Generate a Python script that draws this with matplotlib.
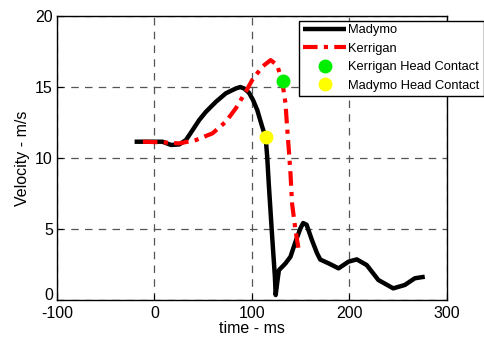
import matplotlib
matplotlib.use('Agg')
import matplotlib.pyplot as plt
import matplotlib.transforms as mtransforms

# Madymo head velocity (time in ms, velocity in m/s)
madymo_t = [-20.4, 8.2, 17.0, 25.5, 32.3, 39.1, 45.9, 52.8, 63.0, 73.2, 83.4,
            88.0, 92.0, 96.9, 101.0, 105.4, 110.5, 114.0, 115.6, 117.3, 120.7,
            123.5, 124.3, 125.8, 127.6, 134.4, 139.5, 144.6, 149.7, 152.5,
            156.0, 161.6, 166.7, 170.0, 178.6, 188.8, 199.0, 207.5, 217.7,
            229.6, 244.9, 256.8, 267.0, 277.2]
madymo_v = [11.15, 11.15, 10.92, 10.96, 11.27, 11.97, 12.68, 13.26, 13.96,
            14.56, 14.9, 15.0, 14.9, 14.6, 14.1, 13.38, 12.2, 11.46, 10.1,
            8.1, 4.46, 1.64, 0.35, 1.18, 2.1, 2.58, 3.05, 4.1, 5.05, 5.42,
            5.3, 4.2, 3.3, 2.85, 2.58, 2.23, 2.7, 2.86, 2.46, 1.41, 0.82,
            1.06, 1.53, 1.64]

# Kerrigan head velocity
kerrigan_t = [-11.9, 10.0, 25.5, 42.6, 59.5, 73.2, 83.4, 93.6, 100.3, 110.5,
              119.1, 125.8, 131.0, 134.4, 136.0, 137.8, 139.5, 141.1, 144.6,
              148.0]
kerrigan_v = [11.15, 11.1, 11.03, 11.27, 11.74, 12.56, 13.5, 14.67, 15.5,
              16.43, 16.9, 16.55, 15.4, 13.85, 12.2, 10.56, 8.9, 6.8, 4.93,
              3.5]

# head contact points
kerrigan_contact = (131.5, 15.45)
madymo_contact = (114.0, 11.5)

plt.rcParams['font.family'] = ['Liberation Sans', 'DejaVu Sans']
plt.rcParams['axes.unicode_minus'] = False

fig = plt.figure(figsize=(4.85, 3.42), dpi=100)
ax = fig.add_axes([0.1175, 0.1228, 0.8041, 0.8302])

ax.plot(madymo_t, madymo_v, color='black', lw=3.2, label='Madymo',
        solid_joinstyle='round', solid_capstyle='butt')
ax.plot(kerrigan_t, kerrigan_v, color='red', lw=3.0, ls=(0, (3.5, 1.5, 1, 1.5)),
        label='Kerrigan', dash_joinstyle='round')
ax.plot(*kerrigan_contact, 'o', color='#00ee00', ms=9, mec='#00ee00',
        ls='none', label='Kerrigan Head Contact')
ax.plot(*madymo_contact, 'o', color='yellow', ms=9, mec='yellow',
        ls='none', label='Madymo Head Contact')

ax.set_xlim(-100, 300)
ax.set_ylim(0, 20)
ax.set_xticks([-100, 0, 100, 200, 300])
ax.set_yticks([0, 5, 10, 15, 20])
ax.grid(True, color='#555555', ls=(0, (6, 5)), lw=0.9)
ax.tick_params(labelsize=11.5, direction='in', length=4, pad=3)
ax.tick_params(axis='x', pad=4.5)
ax.set_xlabel('time - ms', fontsize=11.5, labelpad=0)
ax.set_ylabel('Velocity - m/s', fontsize=11.5, labelpad=4)
for s in ax.spines.values():
    s.set_linewidth(1.0)

# nudge the bottom "0" up a little, as in the original
lab0 = ax.get_yticklabels()[0]
lab0.set_transform(lab0.get_transform() +
                   mtransforms.ScaledTranslation(0, 4 / 72, fig.dpi_scale_trans))

leg = fig.legend(loc='upper right', bbox_to_anchor=(0.997, 0.94),
                 fontsize=9.3, frameon=True, fancybox=False, edgecolor='black',
                 handlelength=3.3, borderpad=0.3, labelspacing=0.5,
                 handletextpad=0.2, borderaxespad=0, framealpha=1)
leg.get_frame().set_linewidth(1.0)

fig.savefig('out.png', dpi=100)
